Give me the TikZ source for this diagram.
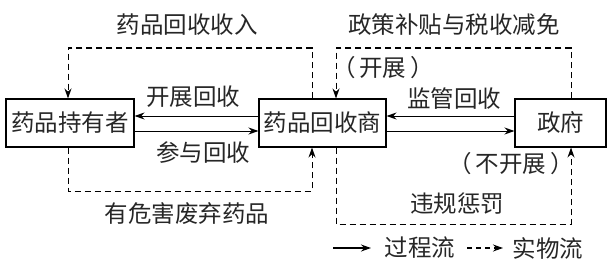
\documentclass[tikz,border=0pt]{standalone}
\usepackage{fontspec}
\newfontfamily\cjk{Noto Sans CJK SC}
\usetikzlibrary{arrows.meta}
\begin{document}
\begin{tikzpicture}[x=1pt,y=-1pt,
  every node/.style={font=\cjk\fontsize{23.5}{25}\selectfont, inner sep=0pt, text=black!85},
  boxnode/.style={draw, line width=1.1pt, minimum height=48pt, anchor=center},
  flow/.style={line width=1pt, -{Stealth[length=10pt,width=7pt]}},
  matflow/.style={flow, dashed, dash pattern=on 6pt off 4pt}]
\useasboundingbox (0,0) rectangle (609,262);
\node[boxnode, minimum width=128pt] (hold) at (70,123) {药品持有者};
\node[boxnode, minimum width=127pt] (rec) at (322.5,123) {药品回收商};
\node[boxnode, minimum width=91pt] (gov) at (560.5,123) {政府};
% solid flows
\draw[flow] (rec.west |- 0,116) -- (hold.east |- 0,116);
\draw[flow] (hold.east |- 0,131) -- (rec.west |- 0,131);
\draw[flow] (gov.west |- 0,116) -- (rec.east |- 0,116);
\draw[flow] (rec.east |- 0,131) -- (gov.west |- 0,131);
% dashed flows
\draw[matflow] (rec.north -| 312,0) -- (312,48) -- (68,48) -- (hold.north -| 68,0);
\draw[matflow] (hold.south -| 68,0) -- (68,191) -- (312,191) -- (rec.south -| 312,0);
\draw[matflow] (gov.north -| 571,0) -- (571,48) -- (336,48) -- (rec.north -| 336,0);
\draw[matflow] (rec.south -| 336,0) -- (336,224) -- (571,224) -- (gov.south -| 571,0);
% labels
\node (l1) at (187,25) {药品回收收入};
\node (l2) at (454,25) {政策补贴与税收减免};
\node (l3) at (193,97) {开展回收};
\node (l4) at (454,99) {监管回收};
\node (l5) at (203,153) {参与回收};
\node (l6) at (383,68) {（\,开展\,）};
\node (l7) at (511,164) {（\,不开展\,）};
\node (l8) at (457,204) {违规惩罚};
\node (l9) at (187,214) {有危害废弃药品};
% legend
\coordinate (a1) at (333,248);
\coordinate (a2) at (371,248);
\draw[flow, line width=1.3pt] (a1) -- (a2);
\node (t1) at (420,248) {过程流};
\coordinate (b1) at (467,248);
\coordinate (b2) at (503,248);
\draw[matflow, line width=1.3pt, dash pattern=on 5pt off 4pt] (b1) -- (b2);
\node (t2) at (548,248) {实物流};
\end{tikzpicture}
\end{document}
